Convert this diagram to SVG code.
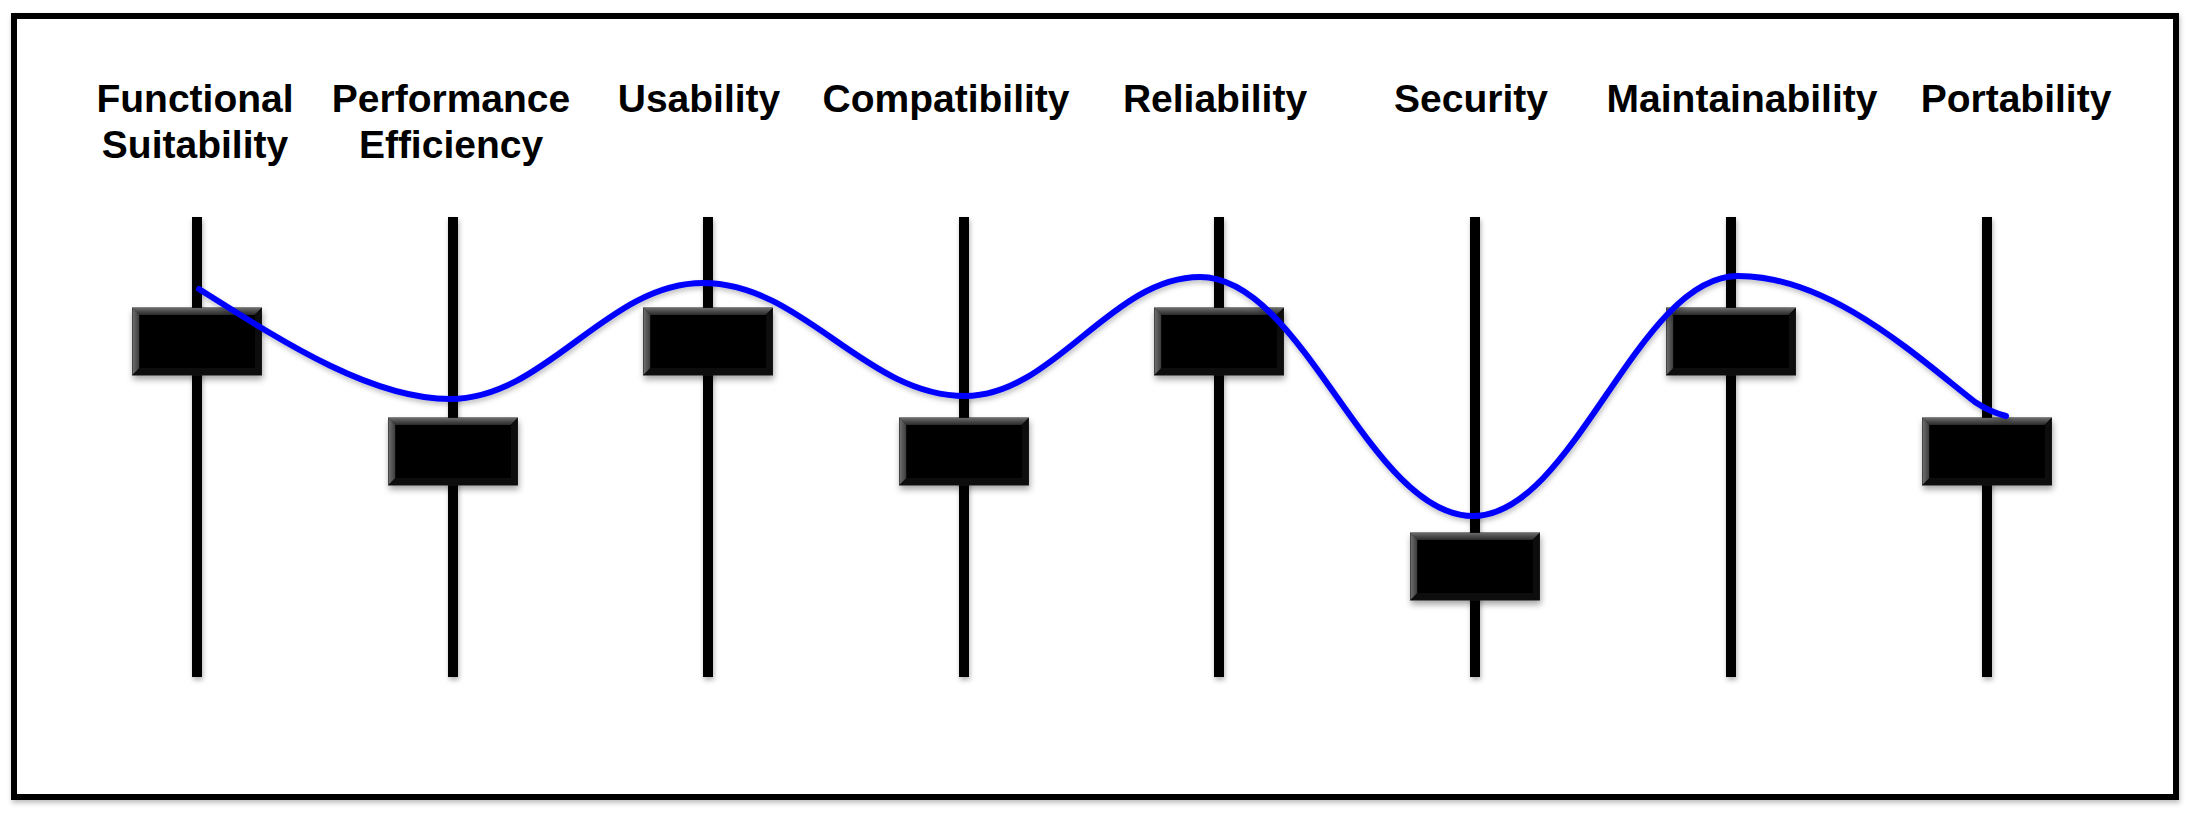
<svg xmlns="http://www.w3.org/2000/svg" width="2198" height="818" viewBox="0 0 2198 818">
  <style>
    .lbl { font-family: "Liberation Sans", Arial, Helvetica, sans-serif; font-weight: bold; font-size: 39px; fill: #000; text-anchor: middle; }
    .track { fill: #000; }
    .curve { fill: none; stroke: #0000ff; stroke-width: 6; stroke-linecap: round; stroke-linejoin: round; }
  </style>
  <defs>
    <filter id="sh" x="-20%" y="-20%" width="140%" height="160%">
      <feDropShadow dx="1" dy="4" stdDeviation="3" flood-color="#000" flood-opacity="0.35"/>
    </filter>
    <filter id="shl" x="-100%" y="-5%" width="300%" height="110%">
      <feDropShadow dx="1" dy="3" stdDeviation="2.5" flood-color="#000" flood-opacity="0.3"/>
    </filter>
    <filter id="shc" x="-5%" y="-20%" width="110%" height="140%">
      <feDropShadow dx="1" dy="3" stdDeviation="2.5" flood-color="#000" flood-opacity="0.25"/>
    </filter>
    <linearGradient id="gTop" x1="0" y1="0" x2="0" y2="1">
      <stop offset="0" stop-color="#6a6a6a"/>
      <stop offset="1" stop-color="#2a2a2a"/>
    </linearGradient>
    <linearGradient id="gLeft" x1="0" y1="0" x2="1" y2="0">
      <stop offset="0" stop-color="#707070"/>
      <stop offset="1" stop-color="#3a3a3a"/>
    </linearGradient>
    <g id="knob">
      <rect x="0" y="0" width="129" height="67" fill="#000" stroke="#1a1a1a" stroke-width="1"/>
      <polygon points="0,0 129,0 122,7 7,7" fill="url(#gTop)"/>
      <polygon points="0,0 7,7 7,60 0,67" fill="url(#gLeft)"/>
      <polygon points="129,0 129,67 122,60 122,7" fill="#101010"/>
      <polygon points="0,67 7,60 122,60 129,67" fill="#080808"/>
      <rect x="7" y="7" width="115" height="53" fill="#000"/>
    </g>
  </defs>

  <rect x="0" y="0" width="2198" height="818" fill="#fff"/>
  <rect id="frame" x="14" y="16" width="2162" height="781" fill="#fff" stroke="#000" stroke-width="6" filter="url(#shc)"/>

  <g id="functional-suitability">
    <text class="lbl" x="195" y="112">Functional</text>
    <text class="lbl" x="195" y="158">Suitability</text>
    <rect class="track" x="192" y="217" width="10" height="460" filter="url(#shl)"/>
    <use href="#knob" x="132.5" y="308" filter="url(#sh)"/>
  </g>
  <g id="performance-efficiency">
    <text class="lbl" x="451" y="112">Performance</text>
    <text class="lbl" x="451" y="158">Efficiency</text>
    <rect class="track" x="448" y="217" width="10" height="460" filter="url(#shl)"/>
    <use href="#knob" x="388.5" y="418" filter="url(#sh)"/>
  </g>
  <g id="usability">
    <text class="lbl" x="699" y="112">Usability</text>
    <rect class="track" x="703" y="217" width="10" height="460" filter="url(#shl)"/>
    <use href="#knob" x="643.5" y="308" filter="url(#sh)"/>
  </g>
  <g id="compatibility">
    <text class="lbl" x="946" y="112">Compatibility</text>
    <rect class="track" x="959" y="217" width="10" height="460" filter="url(#shl)"/>
    <use href="#knob" x="899.5" y="418" filter="url(#sh)"/>
  </g>
  <g id="reliability">
    <text class="lbl" x="1215" y="112">Reliability</text>
    <rect class="track" x="1214" y="217" width="10" height="460" filter="url(#shl)"/>
    <use href="#knob" x="1154.5" y="308" filter="url(#sh)"/>
  </g>
  <g id="security">
    <text class="lbl" x="1471" y="112">Security</text>
    <rect class="track" x="1470" y="217" width="10" height="460" filter="url(#shl)"/>
    <use href="#knob" x="1410.5" y="533" filter="url(#sh)"/>
  </g>
  <g id="maintainability">
    <text class="lbl" x="1742" y="112">Maintainability</text>
    <rect class="track" x="1726" y="217" width="10" height="460" filter="url(#shl)"/>
    <use href="#knob" x="1666.5" y="308" filter="url(#sh)"/>
  </g>
  <g id="portability">
    <text class="lbl" x="2016" y="112">Portability</text>
    <rect class="track" x="1982" y="217" width="10" height="460" filter="url(#shl)"/>
    <use href="#knob" x="1922.5" y="418" filter="url(#sh)"/>
  </g>

  <g id="connectors">
    <path class="curve" filter="url(#shc)" d="M199,289 C280,340 370,399 450,399 C546,399 607,283 703,283 C803,283 865,396 965,396 C1054,396 1111,277 1200,277 C1304,277 1369,516 1473,516 C1574,516 1637,276 1738,276 C1830,276 1915,355 1975,402 Q1990,412 2006,416"/>
  </g>
</svg>
